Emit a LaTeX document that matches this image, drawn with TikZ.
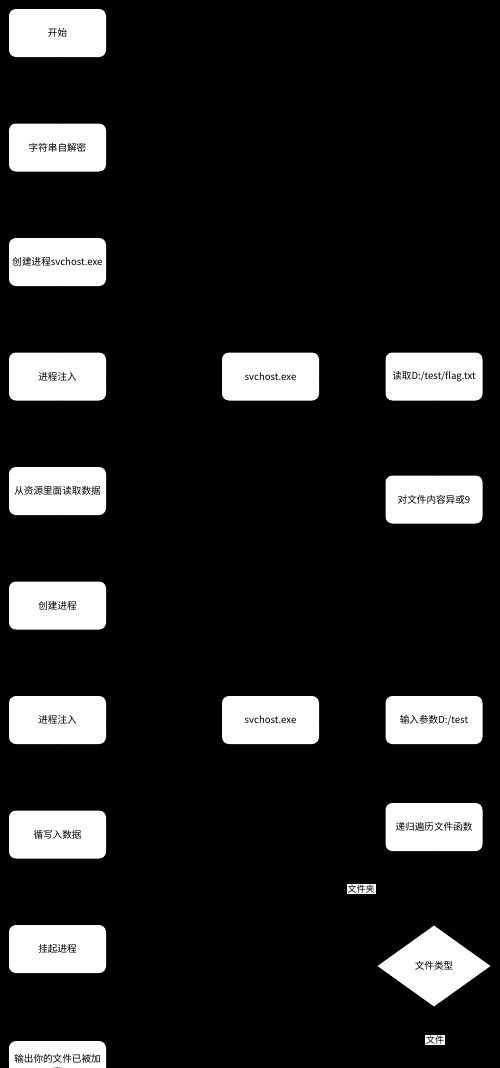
\documentclass[tikz,border=0pt]{standalone}
\usepackage{fontspec}
\setmainfont{Noto Sans CJK SC}
\usetikzlibrary{shapes.geometric}
\usetikzlibrary{arrows.meta}
\tikzset{
  stepbox/.style={draw=none, fill=white, rounded corners=7pt, minimum width=97pt, minimum height=48pt, inner sep=1pt, align=center, font=\fontsize{9.6}{13}\selectfont},
  choice/.style={draw=none, fill=white, diamond, aspect=1.4, minimum width=113pt, minimum height=81pt, inner sep=0pt, font=\fontsize{9.6}{13}\selectfont},
  edgelabel/.style={fill=white, text=black, inner sep=1pt, font=\fontsize{9}{10}\selectfont},
  flow/.style={->, >=Stealth, black}
}
\begin{document}
\begin{tikzpicture}[x=1pt, y=-1pt]
\fill[black] (0,0) rectangle (500,1068);
\useasboundingbox (0,0) rectangle (500,1068);
% left column
\node[stepbox] (start) at (57.5,33){开始};
\node[stepbox] (decrypt) at (57.5,147.5){字符串自解密};
\node[stepbox] (create1) at (57.5,262){创建进程svchost.exe};
\node[stepbox] (inject1) at (57.5,376.5){进程注入};
\node[stepbox] (resource) at (57.5,491){从资源里面读取数据};
\node[stepbox] (create2) at (57.5,605.5){创建进程};
\node[stepbox] (inject2) at (57.5,720){进程注入};
\node[stepbox] (write) at (57.5,834.5){循写入数据};
\node[stepbox] (suspend) at (57.5,949){挂起进程};
\node[stepbox] (output) at (57.5,1065){输出你的文件已被加\\密};
% middle and right columns
\node[stepbox] (svc1) at (270.5,376.5){svchost.exe};
\node[stepbox] (svc2) at (270.5,720){svchost.exe};
\node[stepbox] (readflag) at (434,376.5){读取D:/test/flag.txt};
\node[stepbox] (xor) at (434,499.5){对文件内容异或9};
\node[stepbox] (param) at (434,720){输入参数D:/test};
\node[stepbox] (recurse) at (434,827){递归遍历文件函数};
\node[choice] (type) at (434,966){文件类型};
\coordinate (loopleft) at (361,966);
\coordinate (loopup) at (361,827);
\coordinate (fileout) at (434,1068);
% connectors
\draw[flow] (start) -- (decrypt);
\draw[flow] (decrypt) -- (create1);
\draw[flow] (create1) -- (inject1);
\draw[flow] (inject1) -- (resource);
\draw[flow] (resource) -- (create2);
\draw[flow] (create2) -- (inject2);
\draw[flow] (inject2) -- (write);
\draw[flow] (write) -- (suspend);
\draw[flow] (suspend) -- (output);
\draw[flow] (inject1) -- (svc1);
\draw[flow] (svc1) -- (readflag);
\draw[flow] (readflag) -- (xor);
\draw[flow] (inject2) -- (svc2);
\draw[flow] (svc2) -- (param);
\draw[flow] (param) -- (recurse);
\draw[flow] (recurse) -- (type);
\draw[flow] (type.west) -- (loopleft) -- (loopup) -- (recurse.west);
\draw[black] (type.south) -- (fileout);
\node[edgelabel] at (361,889){文件夹};
\node[edgelabel] at (435,1040){文件};
\end{tikzpicture}
\end{document}
